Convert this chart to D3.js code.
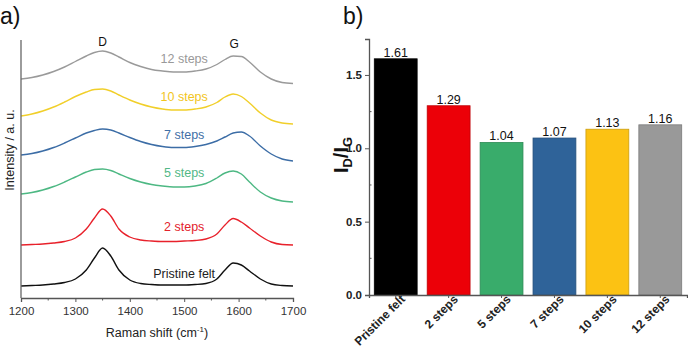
<!DOCTYPE html>
<html lang="en">
<head>
    <meta charset="UTF-8">
    <title>Raman spectra and ID/IG ratio</title>
    <script src="https://d3js.org/d3.v7.min.js"></script>
    <style>
        body {
            margin: 0;
            padding: 0;
            background: #fff;
        }
        svg text {
            font-family: "Liberation Sans", Arial, sans-serif;
        }
    </style>
</head>
<body>
    <svg id="chart" width="688" height="354"></svg>

    <script>
        // Raman shift sample points (cm-1), shared by all spectra
        const ramanShift = [1200, 1220, 1240, 1260, 1280, 1300, 1320, 1335, 1350, 1365, 1380, 1400, 1420, 1440,
                            1460, 1480, 1500, 1520, 1540, 1560, 1575, 1590, 1605, 1620, 1640, 1660, 1680, 1700];

        // Intensities (a.u., already offset)
        const pristineFelt = [12, 12.5, 13, 14, 15.5, 19, 28, 40, 50, 42, 28, 18, 14.5, 13.5,
                              13, 13, 13, 13.5, 14.5, 19, 28, 35, 33, 27, 19, 14, 12.5, 12];
        const steps2 = [53, 53.5, 54, 55, 56.5, 60, 69, 80, 89, 82, 69, 61, 58, 57,
                        56.5, 56.5, 57, 57.5, 59, 64, 73, 79.5, 76, 70, 62, 56, 53.5, 53];
        const steps5 = [104, 105.5, 108, 111.5, 116, 121, 126, 128.5, 129, 127.5, 124, 119.5, 116, 113.5,
                        112, 111, 111, 112, 114.5, 120, 125, 127, 124, 116, 106, 100, 97, 96];
        const steps7 = [143, 144.5, 147, 150.5, 155, 160, 165, 167.5, 169, 168, 165, 160.5, 156.5, 153.5,
                        151.5, 150.5, 150.5, 151.5, 153.5, 157, 161, 165, 166, 162, 152, 144, 139, 137];
        const steps10 = [182, 184, 187, 191, 196, 201.5, 206, 208.5, 209, 207, 203, 198, 194, 191,
                         189, 188, 188, 189, 191, 195.5, 201, 204, 201.5, 195, 185, 178, 175, 174];
        const steps12 = [219, 220.5, 223, 226.5, 231, 236.5, 242, 245.5, 247, 245, 241, 235.5, 231.5, 228.5,
                         227, 226, 226, 227, 229, 233.5, 238.5, 242, 241.5, 236, 226, 219, 215.5, 214.5];

        const spectraNames = ["Pristine felt", "2 steps", "5 steps", "7 steps", "10 steps", "12 steps"];
        const spectraLabelY = [20, 67, 121, 159, 197, 235]; // label height in a.u.
        const xTicks = [1200, 1300, 1400, 1500, 1600, 1700];

        // ID/IG bar chart
        const samples = ["Pristine felt", "2 steps", "5 steps", "7 steps", "10 steps", "12 steps"];
        const ratio = [1.61, 1.29, 1.04, 1.07, 1.13, 1.16];
        const yTicks = [0.0, 0.5, 1.0, 1.5];

        const lineColors = ["#111111", "#e8212b", "#4db883", "#3c6da6", "#f1cf2a", "#9a9a9a"];
        const textColors = ["#222222", "#e3222c", "#52b886", "#3f6fa6", "#f2c51c", "#999999"];
        const barColors = ["#000000", "#ec0008", "#39ac6b", "#2f6399", "#fcc213", "#999999"];

        const svg = d3.select("#chart");
        const spectra = [pristineFelt, steps2, steps5, steps7, steps10, steps12];

        // ---------- panel a) ----------
        const a = { left: 21, right: 293, top: 40, bottom: 298 };

        const x = d3.scaleLinear().domain([1200, 1700]).range([a.left, a.right]);
        const y = d3.scaleLinear().domain([0, 258]).range([a.bottom, a.top]);

        const line = d3.line()
            .x((d, i) => x(ramanShift[i]))
            .y(d => y(d))
            .curve(d3.curveMonotoneX);

        spectra.forEach((s, i) => {
            svg.append("path")
                .datum(s)
                .attr("d", line)
                .attr("fill", "none")
                .attr("stroke", lineColors[i])
                .attr("stroke-width", 1.4);

            svg.append("text")
                .attr("x", x(1500))
                .attr("y", y(spectraLabelY[i]))
                .attr("text-anchor", "middle")
                .attr("font-size", 12.5)
                .attr("fill", textColors[i])
                .text(spectraNames[i]);
        });

        // peak letters
        svg.append("text").attr("x", x(1350)).attr("y", 46).attr("text-anchor", "middle")
            .attr("font-size", 12).attr("fill", "#111").text("D");
        svg.append("text").attr("x", x(1592)).attr("y", 48).attr("text-anchor", "middle")
            .attr("font-size", 12).attr("fill", "#111").text("G");

        // axes
        const xAxis = d3.axisBottom(x).tickValues(xTicks).tickSize(4).tickFormat(d3.format("d"));
        const gx = svg.append("g").attr("transform", `translate(0,${a.bottom})`).call(xAxis);
        gx.select(".domain").attr("stroke", "#555").attr("stroke-width", 1.3);
        gx.selectAll(".tick line").attr("stroke", "#555");
        gx.selectAll(".tick text").attr("font-size", 11.5).attr("fill", "#333").attr("dy", "0.9em")
            .style("font-family", "Liberation Sans, Arial, sans-serif");

        // minor ticks
        const minorX = [1250, 1350, 1450, 1550, 1650];
        svg.append("g").selectAll("line").data(minorX).enter().append("line")
            .attr("x1", d => x(d)).attr("x2", d => x(d))
            .attr("y1", a.bottom).attr("y2", a.bottom + 2.5)
            .attr("stroke", "#555");

        svg.append("line")
            .attr("x1", a.left).attr("x2", a.left)
            .attr("y1", a.top).attr("y2", a.bottom)
            .attr("stroke", "#666").attr("stroke-width", 1.3);

        const xt = svg.append("text").attr("x", x(1450)).attr("y", 337)
            .attr("text-anchor", "middle").attr("font-size", 12.5).attr("fill", "#222");
        xt.append("tspan").text("Raman shift (cm");
        xt.append("tspan").attr("font-size", 8).attr("dy", -5).text("-1");
        xt.append("tspan").attr("dy", 5).text(")");

        svg.append("text")
            .attr("transform", "translate(14,150) rotate(-90)")
            .attr("text-anchor", "middle").attr("font-size", 12.5).attr("fill", "#222")
            .text("Intensity / a. u.");

        svg.append("text").attr("x", 0).attr("y", 24).attr("font-size", 23).attr("fill", "#111").text("a)");

        // ---------- panel b) ----------
        const b = { left: 369, right: 687, top: 39, bottom: 295 };

        const xb = d3.scaleBand().domain(samples).range([b.left, b.right])
            .paddingInner(0.19).paddingOuter(0.1);
        const yb = d3.scaleLinear().domain([0, 1.745]).range([b.bottom, b.top]);

        svg.append("g").selectAll("rect").data(ratio).enter().append("rect")
            .attr("x", (d, i) => xb(samples[i]))
            .attr("y", d => yb(d))
            .attr("width", xb.bandwidth())
            .attr("height", d => yb(0) - yb(d))
            .attr("fill", (d, i) => barColors[i])
            .attr("stroke", (d, i) => d3.color(barColors[i]).darker(0.6))
            .attr("stroke-width", 0.8);

        svg.append("g").selectAll("text").data(ratio).enter().append("text")
            .attr("x", (d, i) => xb(samples[i]) + xb.bandwidth() / 2)
            .attr("y", d => yb(d) - 2)
            .attr("text-anchor", "middle")
            .attr("font-size", 12.5)
            .attr("fill", "#111")
            .text(d => d3.format(".2f")(d));

        const ybAxis = d3.axisLeft(yb).tickValues(yTicks).tickSize(4).tickFormat(d3.format(".1f"));
        const gyb = svg.append("g").attr("transform", `translate(${b.left},0)`).call(ybAxis);
        gyb.select(".domain").attr("stroke", "#555").attr("stroke-width", 1.3);
        gyb.selectAll(".tick line").attr("stroke", "#555");
        gyb.selectAll(".tick text").attr("font-size", 11.5).attr("font-weight", "bold").attr("fill", "#222")
            .style("font-family", "Liberation Sans, Arial, sans-serif");

        const minorY = [0.25, 0.75, 1.25];
        svg.append("g").selectAll("line").data(minorY).enter().append("line")
            .attr("x1", b.left).attr("x2", b.left + 2.5)
            .attr("y1", d => yb(d)).attr("y2", d => yb(d))
            .attr("stroke", "#555");

        const xbAxis = d3.axisBottom(xb).tickSize(3).tickFormat("");
        const gxb = svg.append("g").attr("transform", `translate(0,${b.bottom})`).call(xbAxis);
        gxb.select(".domain").attr("stroke", "#555").attr("stroke-width", 1.3);
        gxb.selectAll(".tick line").attr("stroke", "#555");

        svg.append("g").selectAll("text").data(samples).enter().append("text")
            .attr("transform", d => `translate(${xb(d) + xb.bandwidth() / 2 + 10},${b.bottom + 5}) rotate(-45)`)
            .attr("text-anchor", "end")
            .attr("font-size", 12)
            .attr("font-weight", "bold")
            .attr("fill", "#222")
            .text(d => d);

        const yl = svg.append("text")
            .attr("transform", "translate(348,155) rotate(-90)")
            .attr("text-anchor", "middle").attr("font-size", 20).attr("font-weight", "bold").attr("fill", "#111");
        yl.append("tspan").text("I");
        yl.append("tspan").attr("font-size", 13).attr("dy", 4).text("D");
        yl.append("tspan").attr("dy", -4).text("/I");
        yl.append("tspan").attr("font-size", 13).attr("dy", 4).text("G");

        svg.append("text").attr("x", 343).attr("y", 24).attr("font-size", 23).attr("fill", "#111").text("b)");
    </script>
</body>
</html>
